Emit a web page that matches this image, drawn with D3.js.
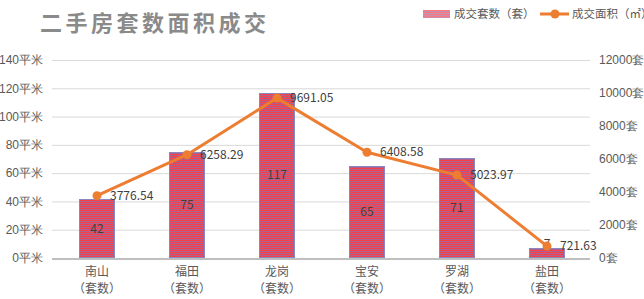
<!DOCTYPE html>
<html>
<head>
<meta charset="utf-8">
<script src="https://cdn.jsdelivr.net/npm/d3@7"></script>
<style>
  html, body { margin: 0; padding: 0; background: #fff; overflow: hidden; }
  svg { display: block; font-family: "Noto Sans CJK SC", "Noto Sans", sans-serif; }
</style>
</head>
<body>
<div id="chart"></div>
<script>
// data
const districts = ['南山', '福田', '龙岗', '宝安', '罗湖', '盐田'];
const deals = [42, 75, 117, 65, 71, 7];             // 成交套数（套）
const areas = [3776.54, 6258.29, 9691.05, 6408.58, 5023.97, 721.63]; // 成交面积（㎡）
const leftTicks = [0, 20, 40, 60, 80, 100, 120, 140];
const rightTicks = [0, 2000, 4000, 6000, 8000, 10000, 12000];

const width = 644, height = 299;
const plotLeft = 52, plotRight = 592, plotTop = 60, plotBottom = 258;
const stripeRed = '#f8424a', stripeBlue = '#b0608e';

const svg = d3.select('#chart').append('svg')
    .attr('width', width)
    .attr('height', height);

const x = d3.scaleBand()
    .domain(districts)
    .range([plotLeft, plotRight])
    .paddingInner(0.6)
    .paddingOuter(0.3);

const yLeft = d3.scaleLinear().domain([0, 140]).range([plotBottom, plotTop]);
const yRight = d3.scaleLinear().domain([0, 12000]).range([plotBottom, plotTop]);

// gridlines
svg.append('g')
    .selectAll('line')
    .data(leftTicks.slice(1))
    .enter().append('line')
    .attr('x1', plotLeft).attr('x2', plotRight - 2)
    .attr('y1', d => yLeft(d) + 0.5).attr('y2', d => yLeft(d) + 0.5)
    .attr('stroke', '#d9d9d9');

// left axis
const leftAxis = svg.append('g')
    .attr('transform', `translate(${plotLeft - 9},0)`)
    .call(d3.axisLeft(yLeft).tickValues(leftTicks).tickSize(0).tickPadding(0)
        .tickFormat(d => d + '平米'));
leftAxis.select('.domain').remove();
leftAxis.selectAll('text')
    .attr('fill', '#595959')
    .style('font-size', '12px');

// right axis
const rightAxis = svg.append('g')
    .attr('transform', `translate(${plotRight + 7},0)`)
    .call(d3.axisRight(yRight).tickValues(rightTicks).tickSize(0).tickPadding(0)
        .tickFormat(d => d + '套'));
rightAxis.select('.domain').remove();
rightAxis.selectAll('text')
    .attr('fill', '#595959')
    .style('font-size', '12px');

// striped box helper: red base with a bluish line on every odd pixel row
function stripedBox(g, x0, y0, w, h) {
    g.append('rect')
        .attr('x', x0).attr('y', y0)
        .attr('width', w).attr('height', h)
        .attr('fill', stripeRed);
    const first = y0 % 2 === 1 ? y0 : y0 + 1;
    g.append('g')
        .selectAll('rect')
        .data(d3.range(first, y0 + h, 2))
        .enter().append('rect')
        .attr('x', x0).attr('y', d => d)
        .attr('width', w).attr('height', 1)
        .attr('fill', stripeBlue);
}

// bars
const bars = svg.append('g').attr('shape-rendering', 'crispEdges');
deals.forEach((d, i) => {
    const bx = Math.round(x(districts[i]));
    const by = Math.round(yLeft(d));
    const bw = Math.round(x.bandwidth());
    const g = bars.append('g');
    stripedBox(g, bx, by, bw, plotBottom - by);
    g.append('rect')
        .attr('x', bx + 0.5).attr('y', by + 0.5)
        .attr('width', bw - 1).attr('height', plotBottom - by - 1)
        .attr('fill', 'none')
        .attr('stroke', '#8a86c0');
});

// baseline
svg.append('line')
    .attr('x1', plotLeft).attr('x2', plotRight - 2)
    .attr('y1', plotBottom + 1).attr('y2', plotBottom + 1)
    .attr('stroke', '#bfbfbf')
    .attr('stroke-width', 2);

// bar labels
svg.append('g')
    .selectAll('text')
    .data(deals)
    .enter().append('text')
    .attr('x', (d, i) => x(districts[i]) + x.bandwidth() / 2)
    .attr('y', d => Math.min((yLeft(d) + plotBottom) / 2, plotBottom - 14))
    .attr('dy', '0.35em')
    .attr('text-anchor', 'middle')
    .attr('fill', '#404040')
    .style('font-size', '12px')
    .text(d => d);

// line series
const cx = i => x(districts[i]) + x.bandwidth() / 2;
const line = d3.line()
    .x((d, i) => cx(i))
    .y(d => yRight(d));

svg.append('path')
    .datum(areas)
    .attr('d', line)
    .attr('fill', 'none')
    .attr('stroke', '#ed7d31')
    .attr('stroke-width', 3)
    .attr('stroke-linejoin', 'round');

svg.append('g')
    .selectAll('circle')
    .data(areas)
    .enter().append('circle')
    .attr('cx', (d, i) => cx(i))
    .attr('cy', d => yRight(d))
    .attr('r', 4.5)
    .attr('fill', '#ed7d31');

svg.append('g')
    .selectAll('text')
    .data(areas)
    .enter().append('text')
    .attr('x', (d, i) => cx(i) + 13)
    .attr('y', d => yRight(d))
    .attr('dy', '0.35em')
    .attr('fill', '#404040')
    .style('font-size', '12px')
    .text(d => d3.format('.2f')(d));

// category labels
const cat = svg.append('g')
    .selectAll('text')
    .data(districts)
    .enter().append('text')
    .attr('x', d => x(d) + x.bandwidth() / 2)
    .attr('text-anchor', 'middle')
    .attr('fill', '#595959')
    .style('font-size', '12px');
cat.append('tspan').attr('x', d => x(d) + x.bandwidth() / 2).attr('y', 276).text(d => d);
cat.append('tspan').attr('x', d => x(d) + x.bandwidth() / 2).attr('y', 293).text('（套数）');

// title
svg.append('text')
    .attr('x', 40)
    .attr('y', 31)
    .attr('fill', '#8a8a8a')
    .style('font-size', '22px')
    .style('font-weight', 'bold')
    .style('letter-spacing', '3.5px')
    .text('二手房套数面积成交');

// legend
const legend = svg.append('g');
const sw = legend.append('g').attr('opacity', 0.7).attr('shape-rendering', 'crispEdges');
stripedBox(sw, 423, 10, 27, 8);
legend.append('text')
    .attr('x', 454).attr('y', 14).attr('dy', '0.35em')
    .attr('fill', '#595959')
    .style('font-size', '11.5px')
    .text('成交套数（套）');
legend.append('line')
    .attr('x1', 540).attr('x2', 569)
    .attr('y1', 14).attr('y2', 14)
    .attr('stroke', '#ed7d31').attr('stroke-width', 3);
legend.append('circle')
    .attr('cx', 555).attr('cy', 14).attr('r', 4.5)
    .attr('fill', '#ed7d31');
legend.append('text')
    .attr('x', 572).attr('y', 14).attr('dy', '0.35em')
    .attr('fill', '#595959')
    .style('font-size', '11.5px')
    .text('成交面积（㎡）');
</script>
</body>
</html>
